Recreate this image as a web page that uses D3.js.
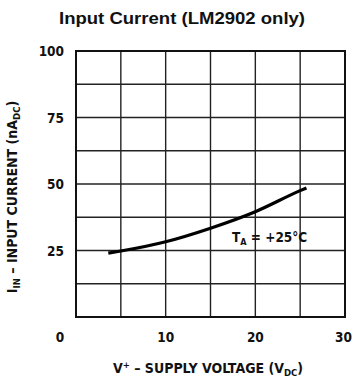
<!DOCTYPE html>
<html><head><meta charset="utf-8">
<script src="https://cdn.jsdelivr.net/npm/d3@7"></script>
<style>
html,body{margin:0;padding:0;background:#fff;}
svg text{font-family:"DejaVu Sans Condensed","DejaVu Sans",sans-serif;font-stretch:condensed;font-weight:bold;fill:#111;}
</style></head>
<body><svg id="c" width="353" height="379"></svg>
<script>
const supplyVoltage = [3.6, 5, 10, 15, 20, 25, 25.7];
const inputCurrent = [24.0, 24.8, 28.3, 33.4, 39.6, 47.5, 48.5];
const xTicks = [10, 20, 30];
const yTicks = [25, 50, 75, 100];
const xGrid = [5, 10, 15, 20, 25];
const yGrid = [12.5, 25, 37.5, 50, 62.5, 75, 87.5];

const svg = d3.select("#c");
const L = 76, R = 345, T = 51, B = 317;
const x = d3.scaleLinear().domain([0, 30]).range([L, R]);
const y = d3.scaleLinear().domain([0, 100]).range([B, T]);

// grid
svg.append("g").selectAll("line").data(xGrid).join("line")
  .attr("x1", d => x(d)).attr("x2", d => x(d)).attr("y1", T).attr("y2", B)
  .attr("stroke", "#222").attr("stroke-width", 1.4);
svg.append("g").selectAll("line").data(yGrid).join("line")
  .attr("y1", d => y(d)).attr("y2", d => y(d)).attr("x1", L).attr("x2", R)
  .attr("stroke", "#222").attr("stroke-width", 1.4);
svg.append("rect").attr("x", L).attr("y", T).attr("width", R - L).attr("height", B - T)
  .attr("fill", "none").attr("stroke", "#111").attr("stroke-width", 2);

// curve
const line = d3.line().x((d, i) => x(supplyVoltage[i])).y(d => y(d)).curve(d3.curveMonotoneX);
svg.append("path").datum(inputCurrent).attr("d", line)
  .attr("fill", "none").attr("stroke", "#000").attr("stroke-width", 3.2).attr("stroke-linecap", "butt");

// tick labels
svg.append("g").selectAll("text").data(yTicks).join("text")
  .attr("x", 64).attr("y", d => y(d) + 5).attr("text-anchor", "end")
  .attr("font-size", 13.5).text(d => d);
svg.append("g").selectAll("text").data(xTicks).join("text")
  .attr("x", d => x(d) - (d === 30 ? 1.5 : 0)).attr("y", 342).attr("text-anchor", "middle")
  .attr("font-size", 13.5).text(d => d);
svg.append("text").attr("x", 60).attr("y", 342).attr("text-anchor", "middle")
  .attr("font-size", 13.5).text("0");

// title
svg.append("text").attr("x", 182).attr("y", 24).attr("text-anchor", "middle")
  .attr("font-size", 16.5).attr("textLength", 246).attr("lengthAdjust", "spacingAndGlyphs")
  .style("font-family", "'Liberation Sans',Arial,sans-serif").style("font-stretch", "normal")
  .text("Input Current (LM2902 only)");

// x title
const xt = svg.append("text").attr("x", 208).attr("y", 373).attr("text-anchor", "middle").attr("font-size", 14);
xt.append("tspan").text("V");
xt.append("tspan").attr("dy", -5).attr("font-size", 9.5).text("+");
xt.append("tspan").attr("dy", 5).text(" – SUPPLY VOLTAGE (V");
xt.append("tspan").attr("dy", 3).attr("font-size", 9.5).text("DC");
xt.append("tspan").attr("dy", -3).text(")");

// y title
const yt = svg.append("text").attr("transform", "translate(17,197) rotate(-90)").attr("text-anchor", "middle").attr("font-size", 14);
yt.append("tspan").text("I");
yt.append("tspan").attr("dy", 3).attr("font-size", 9.5).text("IN");
yt.append("tspan").attr("dy", -3).text(" – INPUT CURRENT (nA");
yt.append("tspan").attr("dy", 3).attr("font-size", 9.5).text("DC");
yt.append("tspan").attr("dy", -3).text(")");

// annotation
const an = svg.append("text").attr("x", 232).attr("y", 242).attr("font-size", 13.5);
an.append("tspan").text("T");
an.append("tspan").attr("dy", 3).attr("font-size", 9).text("A");
an.append("tspan").attr("dy", -3).text(" = +25°C");
</script></body></html>
